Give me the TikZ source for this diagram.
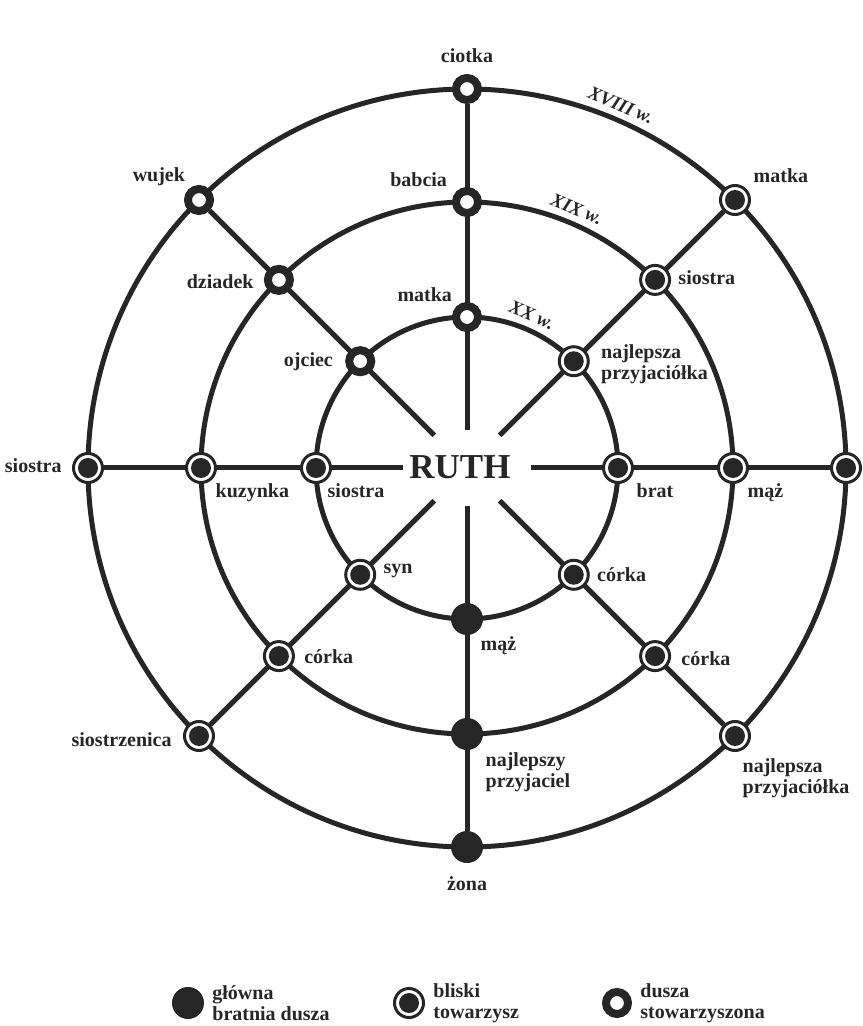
\documentclass[tikz,border=0pt]{standalone}
\usepackage{fontspec}
\setmainfont{Liberation Serif}
\usetikzlibrary{positioning,shapes.geometric,backgrounds}

\definecolor{ink}{HTML}{262626}

\tikzset{
    glowna/.style={circle, fill=ink, minimum size=16pt, inner sep=0pt, outer sep=0pt},
    bliski/.style={circle, draw=ink, line width=1.5pt, fill=white, minimum size=14.5pt, inner sep=0pt,
        path picture={\fill[ink] (path picture bounding box.center) circle (5pt);}},
    stowarz/.style={circle, draw=ink, line width=4pt, fill=white, minimum size=11pt, inner sep=0pt},
    wire/.style={draw=ink, line width=2.5pt},
    lab/.style={font=\fontsize{10}{10.5}\selectfont\bfseries, text=ink, inner sep=0pt, align=left},
    lab1/.style={lab, text height=7pt, text depth=2pt},
    era/.style={font=\fontsize{9.5}{10}\selectfont\bfseries\itshape, text=ink, inner sep=0pt, rotate=-23},
}

\begin{document}
\begin{tikzpicture}[x=0.5pt, y=0.5pt]
    \useasboundingbox (-467,-558) rectangle (395,468);

    \node[ellipse, minimum width=64pt, minimum height=38pt, inner sep=0pt, outer sep=0pt] (hub) at (0,0) {};
    \node[font=\fontsize{17.5}{17.5}\selectfont\bfseries, text=ink, inner sep=0pt] (ruth) at (-7,1) {RUTH};

    \foreach \r/\n in {151/i, 266/m, 379/o}
        \foreach \a/\kind in {0/bliski, 45/bliski, 90/stowarz, 135/stowarz, 180/bliski, 225/bliski, 270/glowna, 315/bliski}
            \node[\kind] (\n\a) at (\a:\r) {};

    \begin{pgfonlayer}{background}
        \foreach \r in {151, 266, 379}
            \draw[wire] (hub.center) circle (\r);
        \foreach \a in {0,45,...,315}
            \draw[wire] (hub.\a) -- (o\a);
    \end{pgfonlayer}

    \foreach \r/\t in {394/XVIII, 281/XIX, 166/XX}
        \node[era] (era\t) at (67:\r) {\t\ w.};

    \node[lab1, above=3.5pt of o90] {ciotka};
    \node[lab1, above left=1.5pt and 1.5pt of o135] {wujek};
    \node[lab1, above left=0pt and 4.5pt of m90] {babcia};
    \node[lab1, left=5pt of m135, yshift=-2pt] {dziadek};
    \node[lab1, above left=0pt and 2pt of i90] {matka};
    \node[lab1, left=6pt of i135] {ojciec};
    \node[lab1, above right=1pt and 3.5pt of o45] {matka};
    \node[lab1, right=3.5pt of m45] {siostra};
    \node[lab, right=5.5pt of i45, yshift=-1.5pt] {najlepsza\\przyjaciółka};
    \node[lab1, left=5pt of o180] {siostra};
    \node[lab1, below right=2pt and 1.5pt of m180] {kuzynka};
    \node[lab1, below right=2pt and 0pt of i180] {siostra};
    \node[lab1, below right=2pt and 3.5pt of i0] {brat};
    \node[lab1, below right=2pt and 1.5pt of m0] {mąż};
    \node[lab1, right=3.5pt of i225, yshift=3pt] {syn};
    \node[lab1, right=4.5pt of m225, yshift=-1pt] {córka};
    \node[lab1, left=5.5pt of o225, yshift=-3pt] {siostrzenica};
    \node[lab1, right=3.5pt of i315, yshift=-1pt] {córka};
    \node[lab1, right=5pt of m315, yshift=-2pt] {córka};
    \node[lab, below right=5.5pt and -2pt of o315] {najlepsza\\przyjaciółka};
    \node[lab1, below right=3pt and 1pt of i270] {mąż};
    \node[lab, below right=3.5pt and 3.5pt of m270] {najlepszy\\przyjaciel};
    \node[lab1, below=6.5pt of o270] {żona};

    \node[glowna] (leg1) at (-279,-535) {};
    \node[bliski] (leg2) at (-58,-535) {};
    \node[stowarz] (leg3) at (150,-535) {};
    \node[lab, right=4pt of leg1] {główna\\bratnia dusza};
    \node[lab, right=4pt of leg2] {bliski\\towarzysz};
    \node[lab, right=4pt of leg3] {dusza\\stowarzyszona};
\end{tikzpicture}
\end{document}
